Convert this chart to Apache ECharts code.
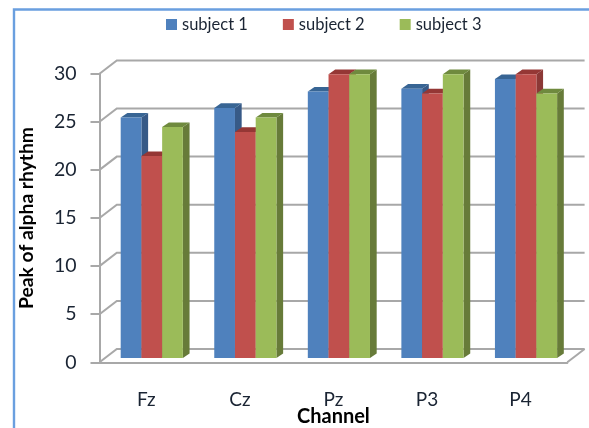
<!DOCTYPE html>
<html>
<head>
<meta charset="utf-8">
<style>html,body{margin:0;padding:0;background:#fff}#c{width:589px;height:428px}</style>
<script src="https://cdn.jsdelivr.net/npm/echarts@6/dist/echarts.min.js"></script>
</head>
<body>
<div id="c"></div>
<script>
const categories = ['Fz', 'Cz', 'Pz', 'P3', 'P4'];
const subject1 = [25, 26, 27.7, 28, 29];
const subject2 = [21, 23.5, 29.5, 27.5, 29.5];
const subject3 = [24, 25, 29.5, 29.5, 27.5];
const yTicks = [0, 5, 10, 15, 20, 25, 30];

const palette = [
  { name: 'subject 1', front: '#4F81BD', top: '#386594', side: '#375A87' },
  { name: 'subject 2', front: '#C0504D', top: '#953735', side: '#8C3836' },
  { name: 'subject 3', front: '#9BBB59', top: '#6F8A3E', side: '#677B39' }
];

const gridColor = '#A8A8A8';
const textColor = '#1a2433';
const WALL = [17.3, -13.3];       // depth offset of the back wall
const BAR_NEAR = [5.5, -4.3];     // offset of the bars' front face
const BAR_DEPTH = [6.7, -4.6];    // depth of a bar
const BAR_SHARE = 0.2215;         // bar width as a share of a category band

function wallItem(params, api) {
  const cs = params.coordSys;
  const v = api.value(1);
  const p = api.coord([0, v]);
  const y = p[1];
  const x0 = cs.x;
  const x1 = cs.x + cs.width;
  const shape = { points: [[x0, y], [x0 + WALL[0], y + WALL[1]], [x1 + WALL[0], y + WALL[1]]] };
  const style = { stroke: gridColor, lineWidth: 2, fill: null };
  const children = [{ type: 'polyline', shape: shape, style: style }];
  if (v === 0) {
    children.push({
      type: 'polyline',
      shape: { points: [[x1, y], [x1 + WALL[0], y + WALL[1]]] },
      style: style
    });
  }
  return { type: 'group', children: children };
}

function barRenderer(k) {
  const c = palette[k];
  return function (params, api) {
    const idx = api.value(0);
    const band = api.size([1, 0])[0];
    const w = band * BAR_SHARE;
    const center = api.coord([idx, 0]);
    const top = api.coord([idx, api.value(1)]);
    const h = center[1] - top[1];
    const xl = center[0] + BAR_NEAR[0] + (k - 1.5) * w;
    const xr = xl + w;
    const yb = center[1] + BAR_NEAR[1];
    const yt = yb - h;
    const dx = BAR_DEPTH[0], dy = BAR_DEPTH[1];
    return {
      type: 'group',
      children: [
        { type: 'polygon', shape: { points: [[xr, yb], [xr + dx, yb + dy], [xr + dx, yt + dy], [xr, yt]] }, style: { fill: c.side } },
        { type: 'polygon', shape: { points: [[xl, yt], [xl + dx, yt + dy], [xr + dx, yt + dy], [xr, yt]] }, style: { fill: c.top } },
        { type: 'rect', shape: { x: xl, y: yt, width: w, height: h }, style: { fill: c.front } }
      ]
    };
  };
}

function barSeries(k, values) {
  return {
    name: palette[k].name,
    type: 'custom',
    renderItem: barRenderer(k),
    clip: false,
    z: 5 + k,
    itemStyle: { color: palette[k].front },
    encode: { x: 0, y: 1 },
    data: values.map((v, i) => [i, v])
  };
}

const chart = echarts.init(document.getElementById('c'), null, { renderer: 'canvas', width: 589, height: 428 });
chart.setOption({
  animation: false,
  backgroundColor: '#fff',
  textStyle: { fontFamily: 'Lato' },
  graphic: [{
    type: 'polyline',
    silent: true,
    shape: { points: [[14, 428], [14, 9.5], [589, 9.5]] },
    style: { stroke: '#6A9FDF', lineWidth: 2.4, fill: null }
  }],
  legend: {
    left: 161,
    top: 11,
    itemWidth: 11,
    itemHeight: 11,
    itemGap: 35,
    icon: 'rect',
    selectedMode: false,
    data: palette.map(p => p.name),
    textStyle: { fontFamily: 'Lato', fontSize: 16.5, color: textColor }
  },
  grid: { left: 99.5, top: 73.7, width: 467.8, height: 288.6, outerBoundsMode: 'none' },
  xAxis: {
    type: 'category',
    data: categories,
    name: 'Channel',
    nameLocation: 'middle',
    nameGap: 44,
    nameMoveOverlap: false,
    nameTextStyle: { fontFamily: 'Lato', fontSize: 20, fontWeight: 'bold', color: '#000' },
    axisLine: { lineStyle: { color: gridColor, width: 2 } },
    axisTick: { length: 8, lineStyle: { color: gridColor, width: 2 }, alignWithLabel: false },
    axisLabel: { fontSize: 19, color: textColor, margin: 28 }
  },
  yAxis: {
    type: 'value',
    min: 0,
    max: 30,
    interval: 5,
    name: 'Peak of alpha rhythm',
    nameLocation: 'middle',
    nameGap: 63,
    nameMoveOverlap: false,
    nameTextStyle: { fontFamily: 'Lato', fontSize: 19.3, fontWeight: 'bold', color: '#000' },
    axisLine: { show: true, lineStyle: { color: gridColor, width: 2 } },
    axisTick: { show: true, length: 9, lineStyle: { color: gridColor, width: 2 } },
    axisLabel: { fontSize: 19.5, color: textColor, margin: 23 },
    splitLine: { show: false }
  },
  series: [
    {
      name: 'walls',
      type: 'custom',
      renderItem: wallItem,
      clip: false,
      silent: true,
      z: 1,
      encode: { x: 0, y: 1 },
      data: yTicks.map(v => [0, v])
    },
    barSeries(0, subject1),
    barSeries(1, subject2),
    barSeries(2, subject3)
  ]
});
</script>
</body>
</html>
